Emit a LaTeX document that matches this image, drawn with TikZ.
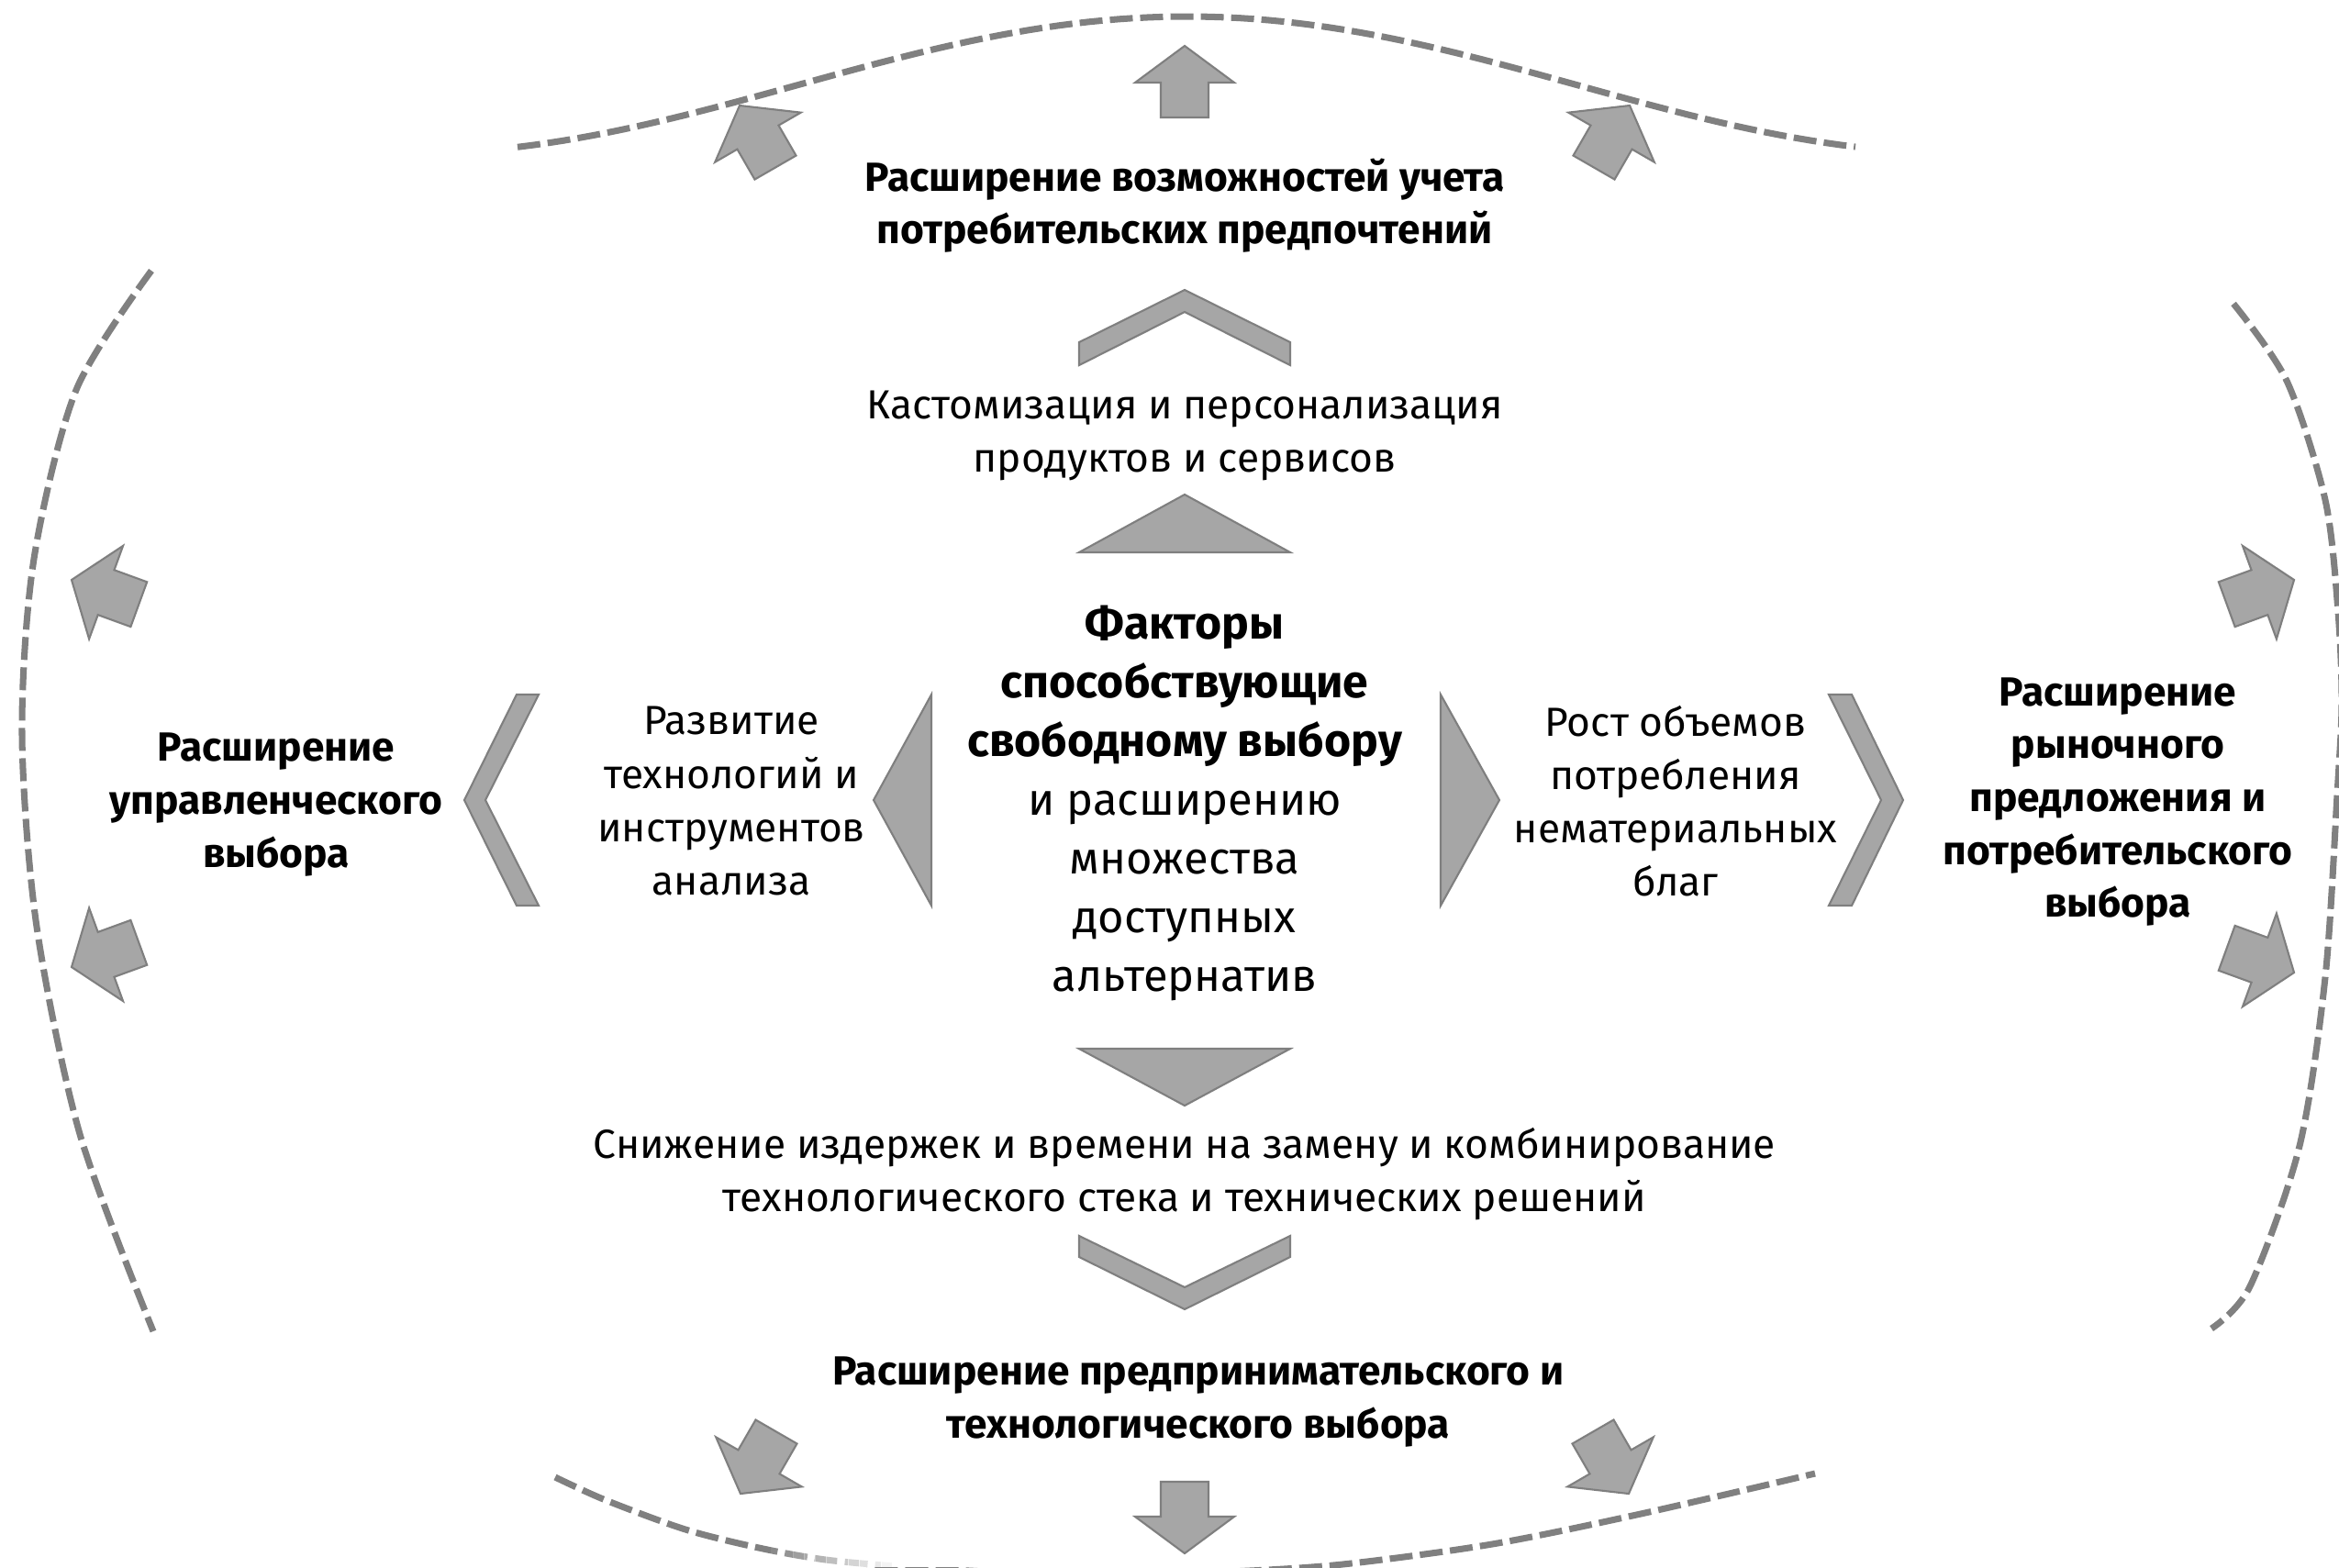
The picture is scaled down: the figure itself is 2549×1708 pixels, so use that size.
\documentclass[tikz,border=0pt]{standalone}
\usepackage{fontspec}
\setmainfont{Fira Sans}

\definecolor{shapefill}{HTML}{A6A6A6}
\definecolor{shapeline}{HTML}{7F7F7F}
\definecolor{dashline}{HTML}{808080}

\tikzset{
  shapebox/.style={fill=shapefill, draw=shapeline, line width=0.6pt, line join=miter},
  boundary/.style={draw=dashline, line width=2pt, dash pattern=on 7.1pt off 2.3pt},
  regtext/.style={align=center, inner sep=0pt, font=\fontsize{12.6}{16.5}\selectfont},
  boldtext/.style={align=center, inner sep=0pt, font=\fontsize{12.6}{16.4}\selectfont\bfseries},
  coretext/.style={align=center, inner sep=0pt, font=\fontsize{13.9}{18.2}\selectfont},
}
\newcommand\corebold[1]{{\fontsize{14.2}{18.2}\selectfont\bfseries #1}}

% block arrow: tip at (#1,#2), pointing in direction #3 (degrees)
\newcommand\blockarrow[3]{%
  \path[shapebox, shift={(#1,#2)}, rotate=#3]
    (0,0) -- (-40,54) -- (-40,26) -- (-78,26) -- (-78,-26) -- (-40,-26) -- (-40,-54) -- cycle;}

\begin{document}
\begin{tikzpicture}[x=0.01cm, y=-0.01cm]
\useasboundingbox (0,0) rectangle (2549,1708);

\begin{scope}
  \clip (0,0) rectangle (2549,1708);
  % dashed boundary arcs
  \draw[boundary] plot[domain=-730:728, samples=90]
    ({1294+\x},{18+149.5*(1-cos(\x/850*180))/2});
  \draw[boundary] plot[smooth] coordinates
    {(165,295) (83,425) (37,609) (24,800) (40,1010) (87,1236) (167,1451)};
  \draw[boundary] plot[smooth] coordinates
    {(2434,331) (2492,415) (2534,545) (2548,667) (2552,766) (2547,866)
     (2534,1065) (2506,1249) (2452,1402) (2410,1448)};
  \draw[boundary] plot[smooth] coordinates
    {(605,1610) (660,1635) (747,1667) (827,1687) (900,1700) (990,1708)
     (1100,1714) (1220,1716) (1340,1713) (1463,1705) (1626,1683)
     (1788,1650) (1978,1606)};
  % the lower left arc fades out towards the bottom edge
  \foreach \i [evaluate=\i as \op using (\i+1)/12] in {0,...,11}
    \fill[white, opacity=\op] ({840+12*\i},1672) rectangle ({852.5+12*\i},1708);
  \fill[white] (984,1672) rectangle (1060,1708);
\end{scope}

% outward block arrows
\blockarrow{1291}{50}{90}
\blockarrow{806}{115}{120}
\blockarrow{1776}{115}{60}
\blockarrow{78}{632}{160}
\blockarrow{78}{1054}{200}
\blockarrow{2500}{632}{20}
\blockarrow{2500}{1060}{-20}
\blockarrow{1291}{1693}{-90}
\blockarrow{807}{1628}{240}
\blockarrow{1775}{1628}{300}

% chevrons and triangles around the centre
\path[shapebox] (1176,398) -- (1176,373) -- (1291,316) -- (1406,373) -- (1406,398) -- (1291,340) -- cycle;
\path[shapebox] (1176,602) -- (1291,539) -- (1406,602) -- cycle;
\path[shapebox] (1176,1143) -- (1406,1143) -- (1291,1205) -- cycle;
\path[shapebox] (1176,1347) -- (1291,1403) -- (1406,1347) -- (1406,1370) -- (1291,1427) -- (1176,1370) -- cycle;
\path[shapebox] (563,757) -- (587,757) -- (529,872) -- (587,987) -- (563,987) -- (506,872) -- cycle;
\path[shapebox] (1015,757) -- (1015,987) -- (952,872) -- cycle;
\path[shapebox] (1570,757) -- (1634,872) -- (1570,987) -- cycle;
\path[shapebox] (1993,757) -- (2018,757) -- (2074,872) -- (2018,987) -- (1993,987) -- (2050,872) -- cycle;

% texts
\node[boldtext] (ttop) at (1291,224) {Расширение возможностей учета\\потребительских предпочтений};
\node[regtext] (tcustom) at (1291,475) {Кастомизация и персонализация\\продуктов и сервисов};
\node[coretext] (tcenter) at (1291,875) {\corebold{Факторы}\\\corebold{способствующие}\\\corebold{свободному выбору}\\и расширению\\множества\\доступных\\альтернатив};
\node[regtext] (tleft) at (797,873) {Развитие\\технологий и\\инструментов\\анализа};
\node[regtext] (tright) at (1826,873) {Рост объемов\\потребления\\нематериальных\\благ};
\node[boldtext] (tleftb) at (301,877) {Расширение\\управленческого\\выбора};
\node[boldtext] (trightb) at (2308,874) {Расширение\\рыночного\\предложения и\\потребительского\\выбора};
\node[regtext] (tbottom) at (1291,1280) {Снижение издержек и времени на замену и комбинирование\\технологического стека и технических решений};
\node[boldtext] (tbottomb) at (1306,1528) {Расширение предпринимательского и\\технологического выбора};
\end{tikzpicture}
\end{document}
